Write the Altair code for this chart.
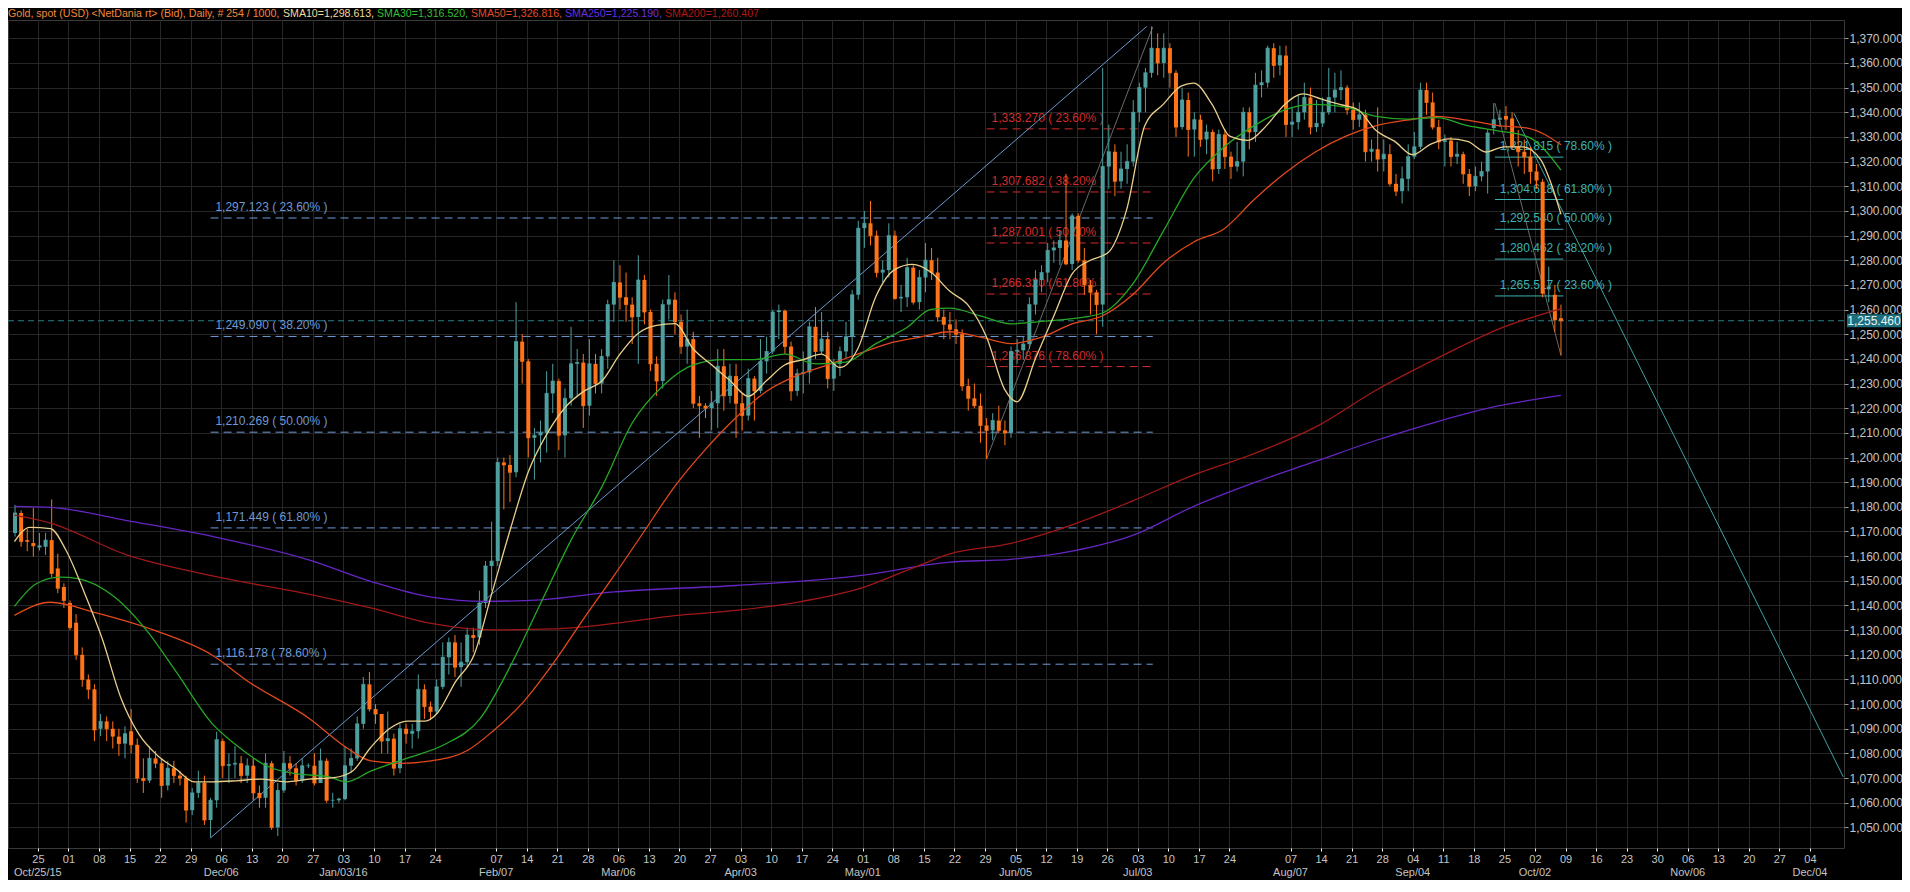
import altair as alt
import pandas as pd

# ---------------- values ----------------
# daily bars; bar index 0 = Tue 20 Oct 2015 ... 253 = Fri 7 Oct 2016
bar_open = [
    1169.4, 1177.5, 1166.5, 1165.3, 1163.5, 1163.8, 1166.5, 1155.0, 1147.5, 1141.0,
    1133.0, 1120.0, 1110.0, 1106.0, 1090.0, 1093.0, 1090.0, 1086.8, 1084.0, 1089.0,
    1083.5, 1070.0, 1069.0, 1078.0, 1076.0, 1067.0, 1074.0, 1071.0, 1070.0, 1057.0,
    1064.0, 1068.0, 1053.0, 1061.0, 1085.0, 1075.0, 1075.5, 1076.0, 1071.0, 1075.0,
    1064.0, 1062.0, 1076.0, 1050.0, 1065.0, 1076.0, 1074.0, 1069.0, 1075.0, 1075.0,
    1068.0, 1077.0, 1061.0, 1061.0, 1061.5, 1075.0, 1078.0, 1092.0, 1108.0, 1098.0,
    1096.0, 1085.0, 1086.0, 1074.0, 1090.0, 1088.0, 1089.0, 1106.0, 1099.0, 1097.0,
    1107.0, 1119.0, 1125.0, 1115.0, 1117.0, 1128.0, 1127.0, 1141.0, 1156.0, 1158.0,
    1198.0, 1197.0, 1194.0, 1247.0, 1239.0, 1208.0, 1209.0, 1210.0, 1226.0, 1231.0,
    1209.0, 1224.0, 1238.0, 1238.5, 1221.0, 1238.0, 1230.0, 1241.0, 1262.0, 1271.0,
    1265.0, 1262.0, 1257.0, 1272.0, 1259.0, 1238.0, 1231.0, 1262.0, 1264.0, 1255.0,
    1245.0, 1248.0, 1222.0, 1221.0, 1220.0, 1222.0, 1237.0, 1225.0, 1233.0, 1222.0,
    1217.0, 1232.0, 1227.0, 1239.0, 1243.0, 1259.0, 1259.5, 1245.0, 1227.0, 1234.0,
    1234.5, 1253.0, 1243.0, 1248.0, 1232.0, 1238.0, 1243.0, 1249.0, 1266.0, 1293.0,
    1295.0, 1290.0, 1275.0, 1276.0, 1290.0, 1264.5, 1265.0, 1277.0, 1263.0, 1273.0,
    1280.0, 1275.0, 1257.0, 1254.0, 1252.0, 1250.0, 1229.0, 1224.0, 1221.0, 1213.0,
    1211.0, 1215.0, 1211.0, 1210.0, 1243.0, 1243.5, 1246.0, 1262.0, 1272.0, 1275.0,
    1284.0, 1285.0, 1288.0, 1278.5, 1298.0, 1280.0, 1270.0, 1267.0, 1262.0, 1318.0,
    1324.0, 1312.0, 1317.0, 1320.0, 1340.0, 1350.0, 1356.0, 1366.0, 1360.0, 1366.0,
    1356.0, 1334.0, 1345.0, 1333.0, 1337.0, 1329.0, 1332.0, 1317.0, 1331.0, 1322.0,
    1318.0, 1320.0, 1340.0, 1332.0, 1351.0, 1352.0, 1366.0, 1359.0, 1363.0, 1335.0,
    1336.0, 1340.0, 1346.0, 1334.0, 1335.5, 1340.0, 1346.0, 1349.0, 1350.0, 1341.0,
    1337.0, 1339.0, 1324.0, 1325.0, 1321.0, 1323.0, 1311.0, 1308.0, 1313.0, 1322.0,
    1326.0, 1349.0, 1344.0, 1334.0, 1328.0, 1328.5, 1322.0, 1323.0, 1315.0, 1310.0,
    1314.0, 1316.0, 1333.6, 1337.0, 1338.5, 1337.5, 1326.0, 1324.0, 1322.0, 1316.0,
    1311.8, 1268.2, 1266.0, 1256.5,
]
bar_high = [
    1180.8, 1178.5, 1171.0, 1179.5, 1169.4, 1169.5, 1183.0, 1161.0, 1149.0, 1142.0,
    1136.5, 1123.0, 1112.0, 1108.0, 1096.0, 1095.0, 1093.0, 1090.0, 1091.0, 1098.0,
    1086.0, 1078.0, 1083.0, 1081.0, 1078.0, 1077.0, 1077.0, 1073.0, 1071.0, 1066.0,
    1073.0, 1071.0, 1062.0, 1088.8, 1086.0, 1080.0, 1083.0, 1079.0, 1078.0, 1078.0,
    1067.0, 1080.0, 1077.0, 1068.0, 1081.0, 1079.0, 1076.0, 1078.0, 1076.0, 1080.0,
    1082.0, 1078.0, 1064.0, 1062.0, 1083.0, 1082.0, 1095.0, 1111.0, 1113.0, 1100.0,
    1096.0, 1097.0, 1088.0, 1092.0, 1092.0, 1092.0, 1112.0, 1108.0, 1101.0, 1110.0,
    1125.0, 1127.0, 1128.0, 1125.0, 1131.0, 1131.0, 1146.0, 1158.0, 1174.0, 1200.0,
    1200.0, 1201.0, 1263.0, 1250.0, 1240.0, 1212.0, 1215.0, 1235.0, 1238.0, 1232.0,
    1228.0, 1253.0, 1244.0, 1242.0, 1248.0, 1242.0, 1244.0, 1264.0, 1280.0, 1278.0,
    1275.0, 1265.0, 1282.0, 1274.0, 1260.0, 1241.0, 1264.0, 1274.0, 1267.0, 1258.0,
    1260.0, 1251.0, 1225.0, 1222.0, 1227.0, 1244.0, 1244.0, 1238.0, 1238.0, 1226.0,
    1236.0, 1233.0, 1248.0, 1249.0, 1260.0, 1262.0, 1260.0, 1247.0, 1236.0, 1243.0,
    1255.0, 1261.0, 1259.0, 1251.0, 1240.0, 1245.0, 1255.0, 1268.0, 1296.0, 1300.0,
    1304.0, 1292.0, 1280.0, 1295.0, 1292.0, 1270.0, 1281.0, 1278.0, 1276.0, 1287.0,
    1285.0, 1281.0, 1260.0, 1259.0, 1256.0, 1252.0, 1232.0, 1230.0, 1226.0, 1216.0,
    1218.0, 1221.0, 1215.0, 1245.0, 1248.0, 1249.0, 1265.0, 1276.0, 1278.0, 1287.0,
    1288.0, 1292.0, 1315.0, 1299.0, 1299.0, 1285.0, 1272.0, 1268.0, 1358.0, 1335.0,
    1327.0, 1324.0, 1327.0, 1345.0, 1352.0, 1358.0, 1374.8, 1372.0, 1372.0, 1368.0,
    1357.0, 1350.0, 1348.0, 1340.0, 1339.0, 1335.0, 1333.0, 1333.0, 1333.0, 1324.0,
    1328.0, 1342.0, 1342.0, 1356.0, 1357.0, 1367.0, 1368.0, 1367.0, 1367.0, 1342.0,
    1347.0, 1352.0, 1350.0, 1345.0, 1346.0, 1358.0, 1356.0, 1357.0, 1351.0, 1344.0,
    1344.0, 1341.0, 1329.0, 1342.0, 1329.0, 1327.0, 1315.0, 1318.0, 1327.0, 1332.0,
    1352.0, 1352.0, 1348.0, 1337.0, 1331.0, 1330.0, 1328.0, 1324.0, 1317.0, 1318.0,
    1320.0, 1333.0, 1343.7, 1341.0, 1342.5, 1340.0, 1332.8, 1329.0, 1326.0, 1319.0,
    1313.0, 1277.4, 1270.0, 1262.0,
]
bar_low = [
    1167.9, 1163.8, 1162.0, 1159.8, 1162.3, 1160.5, 1151.5, 1145.0, 1139.0, 1130.0,
    1118.0, 1107.0, 1102.0, 1085.0, 1087.0, 1085.0, 1082.0, 1079.0, 1078.0, 1080.0,
    1068.0, 1064.0, 1068.0, 1074.0, 1062.0, 1065.0, 1068.0, 1067.0, 1052.0, 1055.0,
    1062.0, 1051.0, 1045.8, 1058.0, 1070.0, 1068.0, 1070.0, 1068.0, 1068.0, 1061.0,
    1058.0, 1058.0, 1049.0, 1046.5, 1064.0, 1071.0, 1067.0, 1068.0, 1074.0, 1067.0,
    1068.0, 1060.0, 1058.0, 1060.0, 1061.0, 1072.0, 1077.0, 1090.0, 1097.0, 1092.0,
    1080.0, 1080.0, 1071.0, 1072.0, 1084.0, 1082.0, 1086.0, 1094.0, 1094.0, 1096.0,
    1106.0, 1112.0, 1111.0, 1107.0, 1115.0, 1121.0, 1124.0, 1139.0, 1146.0, 1156.0,
    1179.0, 1182.0, 1192.0, 1230.0, 1200.0, 1191.0, 1198.0, 1202.0, 1218.0, 1203.0,
    1200.0, 1221.0, 1225.0, 1212.0, 1217.0, 1226.0, 1226.0, 1236.0, 1255.0, 1260.0,
    1255.0, 1246.0, 1238.0, 1254.0, 1235.0, 1225.0, 1228.0, 1256.0, 1250.0, 1242.0,
    1238.0, 1220.0, 1208.0, 1216.0, 1211.0, 1212.0, 1219.0, 1222.0, 1208.0, 1211.0,
    1215.0, 1215.0, 1226.0, 1234.0, 1242.0, 1248.0, 1242.0, 1223.0, 1225.0, 1226.0,
    1230.0, 1240.0, 1242.0, 1228.0, 1227.0, 1233.0, 1240.0, 1240.0, 1264.0, 1285.0,
    1286.0, 1273.0, 1271.0, 1273.0, 1264.0, 1259.0, 1261.0, 1262.0, 1260.0, 1267.0,
    1272.0, 1255.0, 1248.0, 1248.0, 1246.0, 1227.0, 1219.0, 1220.0, 1206.0, 1199.4,
    1207.0, 1210.0, 1205.0, 1208.0, 1238.0, 1240.0, 1244.0, 1258.0, 1267.0, 1271.0,
    1279.0, 1278.0, 1278.0, 1276.0, 1279.0, 1266.0, 1258.0, 1250.0, 1253.0, 1309.0,
    1306.0, 1309.0, 1311.0, 1318.0, 1336.0, 1340.0, 1354.0, 1355.0, 1354.0, 1350.0,
    1330.0, 1333.0, 1322.0, 1322.0, 1326.0, 1323.0, 1312.0, 1315.0, 1317.0, 1313.0,
    1316.0, 1314.0, 1325.0, 1328.0, 1346.0, 1350.0, 1354.0, 1355.0, 1330.0, 1330.0,
    1333.0, 1337.0, 1331.0, 1332.0, 1334.0, 1339.0, 1340.0, 1345.0, 1339.0, 1333.0,
    1334.0, 1320.0, 1320.0, 1316.0, 1316.0, 1310.0, 1306.0, 1303.0, 1308.0, 1321.0,
    1325.0, 1339.0, 1333.0, 1325.0, 1318.0, 1318.0, 1319.0, 1311.0, 1306.0, 1308.0,
    1312.0, 1307.0, 1331.0, 1334.0, 1332.8, 1324.8, 1318.0, 1315.0, 1311.0, 1309.0,
    1265.0, 1263.0, 1251.0, 1241.4,
]
bar_close = [
    1177.5, 1165.9, 1166.0, 1164.2, 1164.2, 1166.5, 1153.0, 1147.0, 1142.0, 1131.0,
    1120.0, 1110.0, 1106.0, 1089.5, 1093.0, 1090.0, 1087.0, 1084.0, 1088.0, 1083.5,
    1070.0, 1069.0, 1078.0, 1076.0, 1067.0, 1074.0, 1071.0, 1070.0, 1057.0, 1064.0,
    1068.0, 1053.0, 1061.0, 1085.6, 1075.0, 1075.5, 1076.0, 1071.0, 1075.0, 1064.0,
    1062.0, 1076.0, 1050.0, 1065.0, 1076.0, 1074.0, 1069.0, 1075.0, 1075.0, 1068.0,
    1077.0, 1061.0, 1061.0, 1061.5, 1075.0, 1078.0, 1092.0, 1108.0, 1098.0, 1096.0,
    1085.0, 1086.0, 1074.0, 1090.0, 1088.0, 1089.0, 1106.0, 1099.0, 1097.0, 1107.0,
    1119.0, 1125.0, 1115.0, 1117.0, 1128.0, 1127.0, 1141.0, 1156.0, 1158.0, 1198.0,
    1197.0, 1194.0, 1247.0, 1239.0, 1208.0, 1209.0, 1210.0, 1226.0, 1231.0, 1209.0,
    1224.0, 1238.0, 1238.5, 1221.0, 1238.0, 1230.0, 1241.0, 1262.0, 1271.0, 1265.0,
    1262.0, 1257.0, 1272.0, 1259.0, 1238.0, 1231.0, 1262.0, 1264.0, 1255.0, 1245.0,
    1248.0, 1222.0, 1221.0, 1220.0, 1222.0, 1237.0, 1225.0, 1233.0, 1222.0, 1217.0,
    1232.0, 1227.0, 1239.0, 1243.0, 1259.0, 1259.5, 1245.0, 1227.0, 1234.0, 1234.5,
    1253.0, 1243.0, 1248.0, 1232.0, 1238.0, 1243.0, 1249.0, 1266.0, 1293.0, 1295.0,
    1290.0, 1275.0, 1276.0, 1290.0, 1264.5, 1265.0, 1277.0, 1263.0, 1273.0, 1280.0,
    1275.0, 1257.0, 1254.0, 1252.0, 1250.0, 1229.0, 1224.0, 1221.0, 1213.0, 1211.0,
    1215.0, 1211.0, 1210.0, 1243.0, 1243.5, 1246.0, 1262.0, 1272.0, 1275.0, 1284.0,
    1285.0, 1288.0, 1278.5, 1298.0, 1280.0, 1270.0, 1267.0, 1262.0, 1318.0, 1324.0,
    1312.0, 1317.0, 1320.0, 1340.0, 1350.0, 1356.0, 1366.0, 1360.0, 1366.0, 1356.0,
    1334.0, 1345.0, 1333.0, 1337.0, 1329.0, 1332.0, 1317.0, 1331.0, 1322.0, 1318.0,
    1320.0, 1340.0, 1332.0, 1351.0, 1352.0, 1366.0, 1359.0, 1363.0, 1335.0, 1336.0,
    1340.0, 1346.0, 1334.0, 1335.5, 1340.0, 1346.0, 1349.0, 1350.0, 1341.0, 1337.0,
    1339.0, 1324.0, 1325.0, 1321.0, 1323.0, 1311.0, 1308.0, 1313.0, 1322.0, 1326.0,
    1349.0, 1344.0, 1334.0, 1328.0, 1328.5, 1322.0, 1323.0, 1315.0, 1310.0, 1314.0,
    1316.0, 1331.6, 1337.0, 1337.6, 1337.2, 1326.0, 1324.0, 1322.0, 1316.0, 1312.5,
    1266.6, 1269.2, 1255.8, 1255.46,
]

# moving averages, sampled along each drawn curve: (bar index, price)
sma10_idx = [-0.1, 2.4, 5.8, 8.3, 11.3, 14.3, 17.3, 20.3, 23.3, 26.3, 29.3, 32.3, 36.2, 40.2, 44.2,
             48.2, 52.2, 55.2, 58.2, 61.2, 64.2, 67.1, 69.1, 72.1, 75.1, 78.1, 81.1, 84.1, 87.1, 90.1,
             93.1, 96.1, 99, 102, 105, 108, 111, 114, 117, 120, 123, 126, 129, 132, 135, 137.9, 140.9,
             143.9, 146.9, 149.9, 152.9, 156, 159, 162, 164, 167, 170, 173, 175.9, 178.9, 181.9, 184.9,
             187.9, 190.9, 192.9, 195.9, 198.8, 201.8, 204.8, 207.8, 210.8, 213.8, 216.8, 219.8, 222.8,
             225.8, 228.7, 231.7, 234.7, 237.7, 240.7, 243.7, 246.7, 249.7, 251.7, 253]
sma10_val = [1165.9, 1171.7, 1171.2, 1162.6, 1145.5, 1126.3, 1102.7, 1087.7, 1079.2, 1073.8, 1068.5,
             1068.5, 1068.9, 1069.6, 1068.5, 1069.6, 1070.2, 1072.8, 1082.4, 1089.9, 1093.1, 1093.1,
             1096.3, 1109.1, 1119.8, 1145.5, 1171.2, 1194.8, 1209.8, 1220.5, 1226.9, 1231.2, 1241.9,
             1250.4, 1253.6, 1254.3, 1244.0, 1237.6, 1231.2, 1224.8, 1231.2, 1237.6, 1239.7, 1241.9,
             1236.5, 1244.0, 1265.4, 1276.1, 1278.3, 1275.1, 1267.6, 1261.7, 1248.8, 1227.4, 1222.6,
             1240.2, 1257.4, 1274.5, 1279.9, 1283.1, 1300.3, 1334.6, 1343.2, 1350.7, 1351.8, 1343.2,
             1330.3, 1328.6, 1334.6, 1343.2, 1347.5, 1345.3, 1343.2, 1341.0, 1332.5, 1328.2, 1322.8,
             1327.1, 1329.2, 1328.2, 1323.9, 1326.0, 1326.0, 1320.7, 1308.9, 1298.6]
sma30_idx = [-0.1, 3.4, 7.3, 10.3, 16.3, 21.3, 26.3, 32.3, 36.2, 41.2, 46.2, 51.2, 54.2, 58.2, 64.2,
             70.1, 76.1, 81.1, 86.1, 91.1, 96.1, 101, 106, 111, 116, 121, 126, 131, 136, 140.9, 145.9,
             149.9, 153, 158, 163, 168, 173, 177.9, 182.9, 187.9, 192.9, 197.9, 202.8, 207.8, 212.8,
             217.8, 222.8, 227.8, 232.7, 237.7, 242.7, 247.7, 253]
sma30_val = [1139.6, 1148.7, 1151.5, 1150.9, 1143.4, 1130.6, 1113.4, 1092.0, 1083.4, 1074.9, 1071.7,
             1070.6, 1068.5, 1072.8, 1078.1, 1083.4, 1094.1, 1115.6, 1141.3, 1167.0, 1188.4, 1214.0,
             1229.0, 1237.6, 1239.7, 1239.7, 1241.9, 1238.0, 1238.7, 1246.2, 1252.6, 1260.1, 1260.6,
             1257.4, 1254.2, 1255.2, 1256.3, 1258.5, 1270.3, 1291.7, 1313.2, 1326.0, 1334.6, 1341.0,
             1343.2, 1342.1, 1338.3, 1337.2, 1337.8, 1334.6, 1332.5, 1329.9, 1316.5]
sma50_idx = [-0.1, 5.8, 13.3, 23.3, 32.3, 38.2, 48.2, 54.2, 58.2, 63.2, 68.1, 74.1, 78.1, 83.1, 88.1,
             93.1, 98, 103, 108, 113, 118, 123, 128, 133, 137.9, 142.9, 147.9, 153, 158, 163, 168, 173,
             177.9, 182.9, 187.9, 192.9, 197.9, 202.8, 207.8, 212.8, 217.8, 222.8, 227.8, 232.7, 237.7,
             242.7, 247.7, 253]
sma50_val = [1136.0, 1141.3, 1137.0, 1129.5, 1119.8, 1109.1, 1094.1, 1082.4, 1077.0, 1076.0, 1077.0,
             1081.3, 1088.8, 1100.6, 1116.6, 1134.8, 1152.0, 1170.2, 1188.4, 1203.3, 1216.2, 1226.9,
             1233.3, 1237.6, 1241.9, 1246.2, 1248.7, 1251.0, 1248.8, 1246.2, 1248.8, 1254.2, 1257.4,
             1266.0, 1278.8, 1287.4, 1292.8, 1304.6, 1315.3, 1323.9, 1330.3, 1334.6, 1336.8, 1338.3,
             1336.8, 1334.6, 1333.5, 1326.8]
sma200_idx = [-0.1, 5.8, 18.3, 32.3, 48.2, 58.2, 68.1, 78.1, 88.1, 98, 108, 118, 128, 137.9, 147.9,
              153, 163, 173, 182.9, 192.9, 202.8, 212.8, 222.8, 232.7, 242.7, 253]
sma200_val = [1176.6, 1173.4, 1160.5, 1152.0, 1144.5, 1139.0, 1132.7, 1130.1, 1130.5, 1132.7, 1135.9,
              1138.0, 1141.3, 1146.6, 1156.2, 1160.9, 1165.2, 1172.7, 1182.4, 1193.0, 1201.6, 1212.3,
              1227.4, 1240.2, 1252.0, 1260.4]
sma250_idx = [-0.1, 5.8, 18.3, 32.3, 48.2, 58.2, 68.1, 77.1, 86.1, 98, 118, 137.9, 153, 163, 173,
              182.9, 192.9, 202.8, 212.8, 222.8, 232.7, 242.7, 253]
sma250_val = [1180.2, 1179.8, 1174.4, 1168.0, 1158.4, 1149.8, 1143.4, 1141.7, 1142.3, 1145.5, 1148.1,
              1152.0, 1157.6, 1158.7, 1162.0, 1168.4, 1180.2, 1189.8, 1198.4, 1207.0, 1214.5, 1220.9,
              1225.2]

# Fibonacci retracement sets: levels, percentages, first and last bar of the drawn lines
fib_pcts = ["23.60%", "38.20%", "50.00%", "61.80%", "78.60%"]
fib_blue_levels = [1297.123, 1249.090, 1210.269, 1171.449, 1116.178]
fib_blue_span = [32, 186.2]
fib_red_levels = [1333.270, 1307.682, 1287.001, 1266.320, 1236.876]
fib_red_span = [159, 186.2]
fib_teal_levels = [1265.517, 1280.462, 1292.540, 1304.618, 1321.815]
fib_teal_span = [242.2, 253.4]

# drawn lines: (bar index, price) end points
blue_anchor_idx, blue_anchor_val = [32, 185.2], [1045.77, 1374.77]
red_anchor_idx, red_anchor_val = [159, 186.2], [1199.37, 1374.63]
teal_anchor_idx, teal_anchor_val = [242.2, 253], [1343.72, 1241.36]
trend_idx, trend_val = [245.3, 299.2], [1339.6, 1070.5]
last_price = 1255.46

# axis texts
week_days = ["25", "01", "08", "15", "22", "29", "06", "13", "20", "27", "03", "10", "17", "24", "",
             "07", "14", "21", "28", "06", "13", "20", "27", "03", "10", "17", "24", "01", "08", "15",
             "22", "29", "05", "12", "19", "26", "03", "10", "17", "24", "", "07", "14", "21", "28",
             "04", "11", "18", "25", "02", "09", "16", "23", "30", "06", "13", "20", "27", "04"]
month_names = ["Oct/25/15", "Dec/06", "Jan/03/16", "Feb/07", "Mar/06", "Apr/03", "May/01", "Jun/05",
               "Jul/03", "Aug/07", "Sep/04", "Oct/02", "Nov/06", "Dec/04"]
month_weeks = [0, 6, 10, 15, 19, 23, 27, 32, 36, 41, 45, 49, 54, 58]
price_ticks = list(range(1050, 1371, 10))
title_texts = ["Gold, spot (USD) <NetDania rt> (Bid), Daily, # 254 / 1000,",
               "SMA10=1,298.613,", "SMA30=1,316.520,", "SMA50=1,326.816,",
               "SMA250=1,225.190,", "SMA200=1,260.407"]

# ---------------- styling / layout ----------------
W, H = 1836, 828
X_DOMAIN = [-0.33, 298.5]
Y_DOMAIN = [1041.65, 1377.42]
WEEK0 = 3.743          # position of the first Sunday tick, in bar units
FONT = "Liberation Sans, Arial, sans-serif"
GRID = "#262626"
LABEL = "#c4c4c4"
UP, DOWN = "#4f9f9f", "#ff7418"
C_SMA10, C_SMA30, C_SMA50, C_SMA200, C_SMA250 = "#e9cf8b", "#25a825", "#e2491d", "#a01818", "#6526c4"
C_BLUE, C_RED, C_TEAL = "#6d9ad6", "#d42b2b", "#3cb3b3"
title_colors = ["#f5883a", "#efdc9e", "#33bf33", "#e34b27", "#6c2fe0", "#b51515"]
title_x = [0, 275, 369, 463, 557, 657]

xs = alt.Scale(domain=X_DOMAIN, nice=False, zero=False)
ys = alt.Scale(domain=Y_DOMAIN, nice=False, zero=False)

tick_pos = [WEEK0 + 5 * n for n, d in enumerate(week_days) if d]
label_js = "[" + ",".join("'%s'" % d for d in week_days) + "]"
x_axis = alt.Axis(values=tick_pos, labelExpr=label_js + "[round((datum.value - %.3f) / 5)]" % WEEK0,
                  grid=True, gridColor=GRID, gridWidth=1, ticks=True, tickColor="#ffffff", tickSize=3,
                  domain=False, labelColor=LABEL, labelFontSize=11, labelFont=FONT, labelPadding=2,
                  labelOverlap=False, labelFlush=False, title=None)
y_axis = alt.Axis(orient="right", values=price_ticks, labelExpr="format(datum.value, ',.3f')",
                  grid=True, gridColor=GRID, gridWidth=1, tickColor="#9a9a9a", tickSize=4, domain=False,
                  labelColor=LABEL, labelFontSize=12, labelFont=FONT, labelPadding=1,
                  labelOverlap=False, labelFlush=False, title=None)


def X(field):
    return alt.X(field, type="quantitative", scale=xs, axis=x_axis)


def Y(field):
    return alt.Y(field, type="quantitative", scale=ys, axis=y_axis)


layers = []

# current price dashed line
price_df = pd.DataFrame({"p": [last_price]})
layers.append(alt.Chart(price_df).mark_rule(color="#2d7f88", strokeWidth=1, strokeDash=[6, 4])
              .encode(y=Y("p")))


# fib retracements
def fib(levels, pcts, span, color, dashed):
    df = pd.DataFrame({"lv": levels, "pc": pcts})
    df["x1"] = span[0]
    df["x2"] = span[1]
    df["xt"] = span[0] + 0.8
    df["txt"] = ["%s ( %s )" % (format(v, ",.3f"), p) for v, p in zip(levels, pcts)]
    kw = dict(color=color, strokeWidth=1)
    if dashed:
        kw["strokeDash"] = [8, 5]
    rule = alt.Chart(df).mark_rule(**kw).encode(x=X("x1"), x2="x2", y=Y("lv"))
    text = alt.Chart(df).mark_text(color=color, align="left", baseline="middle", dy=-11,
                                   fontSize=12, font=FONT).encode(x=X("xt"), y=Y("lv"), text="txt")
    return [rule, text]


layers += fib(fib_blue_levels, fib_pcts, fib_blue_span, C_BLUE, True)
layers += fib(fib_red_levels, fib_pcts, fib_red_span, C_RED, True)
layers += fib(fib_teal_levels, fib_pcts, fib_teal_span, C_TEAL, False)


def seg(idx, val, color, width=1.0, interp="linear"):
    df = pd.DataFrame({"i": idx, "v": val})
    return alt.Chart(df).mark_line(color=color, strokeWidth=width, interpolate=interp, clip=True).encode(
        x=X("i"), y=Y("v"))


layers.append(seg(blue_anchor_idx, blue_anchor_val, "#6b98d0"))
layers.append(seg(red_anchor_idx, red_anchor_val, "#6a6a6a"))
layers.append(seg(teal_anchor_idx, teal_anchor_val, "#6a6a6a"))
layers.append(seg(trend_idx, trend_val, "#3fa3a3"))

# candles
bars = pd.DataFrame({"i": list(range(len(bar_close))), "o": bar_open, "h": bar_high,
                     "l": bar_low, "c": bar_close})
for cond, col in (("datum.c >= datum.o", UP), ("datum.c < datum.o", DOWN)):
    base = alt.Chart(bars).transform_filter(cond)
    layers.append(base.mark_rule(color=col, strokeWidth=1).encode(x=X("i"), y=Y("l"), y2="h"))
    layers.append(base.mark_bar(color=col, size=4).encode(x=X("i"), y=Y("o"), y2="c"))
    layers.append(base.mark_tick(color=col, orient="horizontal", size=4, thickness=1)
                  .encode(x=X("i"), y=Y("c")))

# moving averages
layers.append(seg(sma250_idx, sma250_val, C_SMA250, 1.3, "monotone"))
layers.append(seg(sma200_idx, sma200_val, C_SMA200, 1.3, "monotone"))
layers.append(seg(sma50_idx, sma50_val, C_SMA50, 1.3, "monotone"))
layers.append(seg(sma30_idx, sma30_val, C_SMA30, 1.3, "monotone"))
layers.append(seg(sma10_idx, sma10_val, C_SMA10, 1.3, "monotone"))

# price tag on the right axis
tag = alt.Chart(price_df).transform_calculate(top="datum.p + 2.6", bot="datum.p - 2.6")
layers.append(tag.mark_rect(color="#1d6f7d").encode(
    x=alt.value(W + 3), x2=alt.value(W + 57), y=Y("top:Q"), y2="bot:Q"))
layers.append(tag.transform_calculate(t="format(datum.p, ',.3f')").mark_text(
    color="#e8f4f4", align="center", baseline="middle", fontSize=12, font=FONT).encode(
    x=alt.value(W + 30), y=Y("p"), text="t:N"))

# month labels under the day labels
mdf = pd.DataFrame({"m": month_names, "w": month_weeks})
layers.append(alt.Chart(mdf).transform_calculate(pos="%.3f + 5 * datum.w" % WEEK0).mark_text(
    color=LABEL, align="center", baseline="middle", fontSize=11, font=FONT).encode(
    x=X("pos:Q"), y=alt.value(H + 25), text="m:N"))

# coloured title pieces
for txt, col, xp in zip(title_texts, title_colors, title_x):
    layers.append(alt.Chart(pd.DataFrame({"t": [txt]})).mark_text(
        color=col, align="left", baseline="alphabetic", fontSize=10.6, font=FONT).encode(
        x=alt.value(xp), y=alt.value(-3), text="t:N"))

chart = alt.layer(*layers).properties(
    width=W, height=H,
    padding={"left": 0, "top": 12, "right": 58, "bottom": 32},
    autosize=alt.AutoSizeParams(type="none"),
    background="#000000",
).configure_view(stroke="#3a3a3a", strokeWidth=1, fill="#000000")

chart.save("out.html", embed_options={"renderer": "svg", "actions": False})
